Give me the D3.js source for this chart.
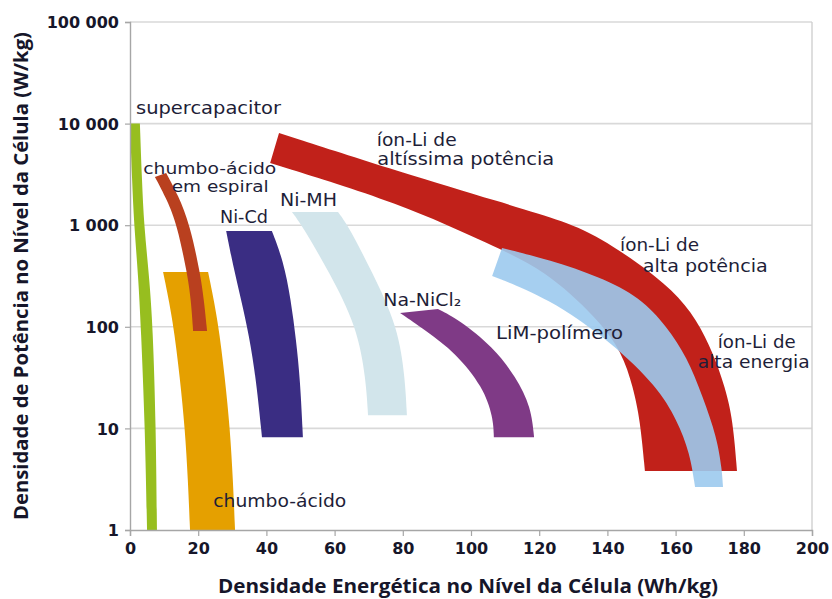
<!DOCTYPE html>
<html>
<head>
<meta charset="utf-8">
<script src="https://cdn.jsdelivr.net/npm/d3@7"></script>
<style>
  html, body { margin: 0; padding: 0; background: #fff; }
  svg { display: block; }
</style>
</head>
<body>
<svg id="chart" width="832" height="599"></svg>
<script>
// ---------- data (energy Wh/kg, power W/kg) ----------
const xTicks = [0, 20, 40, 60, 80, 100, 120, 140, 160, 180, 200];
const yTicks = [1, 10, 100, 1000, 10000, 100000];
const yTickLabels = ["1", "10", "100", "1 000", "10 000", "100 000"];

const supercapOuter = [[0,10000],[0.6,2800],[1.2,1000],[2.4,320],[3.2,100],[4.4,10],[5.0,1]];
const supercapInner = [[2.9,10000],[3.5,2800],[4.1,1000],[5.6,320],[6.7,100],[7.6,10],[7.9,1]];

const leadAcidOuter = [[9.7,346],[12.6,117],[14.7,30],[16.1,10],[17.0,3.1],[17.6,1]];
const leadAcidInner = [[22.9,346],[25.8,117],[27.9,30],[29.3,10],[30.2,3.1],[30.8,1]];

const spiralOuter = [[7.3,2980],[10.9,1770],[13.8,1000],[16.7,346],[17.9,184],[18.5,91]];
const spiralInner = [[10.6,3265],[14.1,1983],[17.6,1000],[20.5,346],[21.7,184],[22.6,91]];

const niCdOuter = [[28.2,877],[30.2,406],[32.6,184],[34.9,83],[37.0,30],[38.7,8.2]];
const niCdInner = [[41.6,877],[44.9,454],[47.2,184],[48.7,74],[49.9,30],[50.7,8.2]];

const niMHOuter = [[47.5,1349],[50.4,1000],[58.4,346],[66.6,100],[69.2,30],[69.8,13.5]];
const niMHInner = [[61.0,1349],[63.9,1000],[71.0,346],[78.6,100],[80.7,30],[81.2,13.5]];

const naNiCl2Outer = [[79.2,137],[86.5,93],[95.6,55],[103.5,25.6],[106.5,12.9],[106.7,8.2]];
const naNiCl2Inner = [[90.3,150],[96.5,117],[106.5,63],[113.2,32],[117.6,16.2],[118.5,8.2]];

const liIonOuter = [[43.7,8080],[79.2,3340],[108.5,1690],[128.2,1075],[137.8,748],[148.7,434],[159.2,230],[166.3,117],[171.0,55],[174.5,25.6],[176.8,12.1],[178.0,3.8]];
const liIonInner = [[41.1,4090],[79.2,1655],[106.5,624],[121.7,362],[137.0,122],[144.3,56.5],[147.5,25.6],[149.6,12.1],[151.0,3.8]];

const limOuter = [[109.1,597],[123.2,454],[137.8,309],[149.6,196],[157.5,100],[163.3,50.5],[168.0,20.4],[172.1,8.2],[173.6,3.9],[173.9,2.65]];
const limInner = [[106.2,316],[122.3,196],[141.6,69.3],[154.6,25.6],[160.4,12.1],[164.2,5.7],[165.7,2.65]];

const bands = [
  { name: "supercapacitor", a: supercapOuter, b: supercapInner, color: "#97be1f", opacity: 1 },
  { name: "chumbo-ácido", a: leadAcidOuter, b: leadAcidInner, color: "#e5a000", opacity: 1 },
  { name: "chumbo-ácido em espiral", a: spiralOuter, b: spiralInner, color: "#b9401f", opacity: 1 },
  { name: "Ni-Cd", a: niCdOuter, b: niCdInner, color: "#3a2d83", opacity: 1 },
  { name: "Ni-MH", a: niMHOuter, b: niMHInner, color: "#d2e5eb", opacity: 1 },
  { name: "Na-NiCl2", a: naNiCl2Outer, b: naNiCl2Inner, color: "#7f3a86", opacity: 1 },
  { name: "íon-Li", a: liIonOuter, b: liIonInner, color: "#c1211a", opacity: 1 },
  { name: "LiM-polímero", a: limOuter, b: limInner, color: "#9ccaee", opacity: 0.9 }
];

// annotation texts anchored in data coordinates
const labelTexts = ["supercapacitor","chumbo-ácido","em espiral","Ni-Cd","Ni-MH","íon-Li de","altíssima potência","Na-NiCl₂","LiM-polímero","íon-Li de","alta potência","íon-Li de","alta energia","chumbo-ácido"];
const labelE = [1.76, 3.9, 12.23, 26.39, 43.99, 72.35, 72.52, 74.28, 107.33, 143.7, 150.35, 172.35, 166.48, 24.43];
const labelP = [12570, 3190, 2137, 1058, 1545, 6023, 3888, 160.2, 75.3, 561, 344, 62.3, 39.6, 1.673];
const labelW = [145, 133, 97, 48, 57, 80, 177, 78, 127, 79, 125, 78, 112, 133];

// ---------- drawing ----------
const svg = d3.select("#chart");
const x = d3.scaleLinear().domain([0, 200]).range([130, 812]);
const y = d3.scaleLog().domain([1, 100000]).range([530, 22]);

// gridlines
svg.append("g").selectAll("line")
  .data(yTicks.slice(1))
  .join("line")
  .attr("x1", x(0)).attr("x2", x(200))
  .attr("y1", d => y(d)).attr("y2", d => y(d))
  .attr("stroke", "#d9d9d9").attr("stroke-width", 1.6);

// right border
svg.append("line")
  .attr("x1", x(200)).attr("x2", x(200))
  .attr("y1", y(100000)).attr("y2", y(1))
  .attr("stroke", "#d0d0d0").attr("stroke-width", 1.4);

// bands
const line = d3.line().x(d => x(d[0])).y(d => y(d[1])).curve(d3.curveBasis);
svg.append("g").selectAll("path")
  .data(bands)
  .join("path")
  .attr("d", d => line(d.a) + "L" + line(d.b.slice().reverse()).slice(1) + "Z")
  .attr("fill", d => d.color)
  .attr("fill-opacity", d => d.opacity);

// axes
const xAxis = d3.axisBottom(x).tickValues(xTicks).tickSize(6).tickPadding(7).tickFormat(d3.format("d"));
const yAxis = d3.axisLeft(y).tickValues(yTicks).tickSize(5).tickPadding(6).tickFormat((d, i) => yTickLabels[i]);

const gx = svg.append("g").attr("transform", `translate(0,${y(1)})`).call(xAxis);
const gy = svg.append("g").attr("transform", `translate(${x(0)},0)`).call(yAxis);
[gx, gy].forEach(g => {
  g.select(".domain").attr("stroke", "#a6a6a6").attr("stroke-width", 1.4);
  g.selectAll(".tick line").attr("stroke", "#a6a6a6").attr("stroke-width", 1.2);
  g.selectAll(".tick text")
    .attr("fill", "#16162a")
    .attr("font-family", "DejaVu Sans")
    .attr("font-weight", "bold")
    .attr("font-size", 16);
});
gy.selectAll(".tick text").attr("dy", "0.36em");

// labels
svg.append("g").selectAll("text")
  .data(labelTexts)
  .join("text")
  .attr("x", (d, i) => x(labelE[i]))
  .attr("y", (d, i) => y(labelP[i]))
  .attr("textLength", (d, i) => labelW[i])
  .attr("lengthAdjust", "spacingAndGlyphs")
  .attr("font-family", "DejaVu Sans")
  .attr("font-size", (d, i) => (i === 1 || i === 2) ? 16 : 17)
  .attr("fill", "#1e1e38")
  .text(d => d);

// axis titles
svg.append("text")
  .attr("x", 468).attr("y", 593)
  .attr("text-anchor", "middle")
  .attr("textLength", 500).attr("lengthAdjust", "spacingAndGlyphs")
  .attr("font-family", "Open Sans").attr("font-weight", "bold").attr("font-size", 19)
  .attr("fill", "#16162a")
  .text("Densidade Energética no Nível da Célula (Wh/kg)");

svg.append("text")
  .attr("transform", "translate(27.5,276) rotate(-90)")
  .attr("text-anchor", "middle")
  .attr("textLength", 488).attr("lengthAdjust", "spacingAndGlyphs")
  .attr("font-family", "Open Sans").attr("font-weight", "bold").attr("font-size", 19)
  .attr("fill", "#16162a")
  .text("Densidade de Potência no Nível da Célula (W/kg)");
</script>
</body>
</html>
